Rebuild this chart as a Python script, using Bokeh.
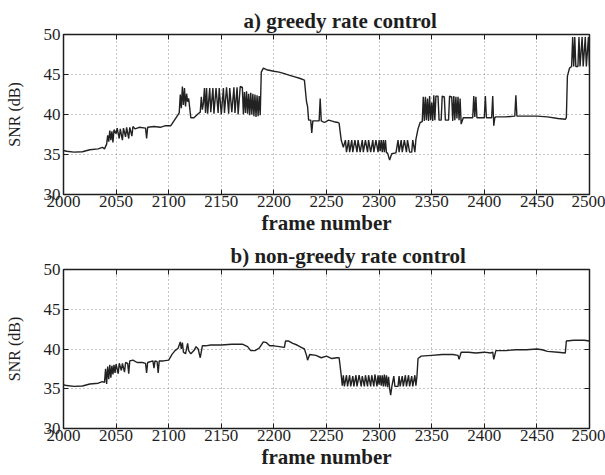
from bokeh.plotting import figure
from bokeh.layouts import column
from bokeh.models import FixedTicker, LinearAxis, Range1d, CustomJSTickFormatter
from bokeh.embed import file_html
from bokeh.resources import INLINE

# ---------------- data ----------------
x_ticks = [2000, 2050, 2100, 2150, 2200, 2250, 2300, 2350, 2400, 2450, 2500]
y_ticks = [30, 35, 40, 45, 50]

greedy_frame = [
    2000, 2003, 2010, 2018, 2025, 2033, 2037, 2039, 2041, 2042, 2043, 2044, 2045, 2046, 2047, 2048,
    2050, 2051, 2053, 2054, 2056, 2057, 2059, 2060, 2062, 2063, 2065, 2066, 2068, 2072, 2078, 2079,
    2080, 2086, 2092, 2097, 2102, 2105, 2108, 2110, 2111, 2112, 2113, 2114, 2115, 2116, 2117, 2118,
    2119, 2120, 2121, 2124, 2128, 2130, 2131, 2132, 2133, 2134, 2135, 2136, 2137, 2139, 2140, 2142,
    2143, 2145, 2147, 2148, 2150, 2152, 2153, 2155, 2157, 2158, 2160, 2162, 2163, 2165, 2166, 2168,
    2170, 2171, 2172, 2173, 2174, 2175, 2176, 2177, 2178, 2179, 2180, 2181, 2182, 2183, 2184, 2185,
    2186, 2187, 2188, 2190, 2193, 2200, 2205, 2210, 2215, 2220, 2225, 2229, 2231, 2232, 2233, 2235,
    2236, 2237, 2243, 2244, 2245, 2248, 2252, 2257, 2261, 2262, 2264, 2266, 2268, 2269, 2271, 2272,
    2274, 2275, 2277, 2279, 2280, 2282, 2284, 2285, 2287, 2289, 2290, 2292, 2294, 2295, 2297, 2299,
    2300, 2301, 2302, 2303, 2304, 2305, 2306, 2307, 2308, 2310, 2312, 2316, 2318, 2319, 2321, 2322,
    2324, 2326, 2327, 2329, 2331, 2332, 2334, 2335, 2337, 2339, 2341, 2342, 2343, 2344, 2345, 2346,
    2347, 2348, 2349, 2350, 2351, 2352, 2353, 2354, 2356, 2357, 2359, 2360, 2362, 2363, 2366, 2367,
    2369, 2370, 2371, 2372, 2373, 2374, 2375, 2376, 2377, 2378, 2380, 2385, 2389, 2390, 2391, 2392,
    2393, 2400, 2401, 2402, 2407, 2408, 2409, 2410, 2411, 2420, 2429, 2430, 2431, 2440, 2450, 2460,
    2470, 2477, 2478, 2479, 2481, 2483, 2484, 2485, 2486, 2487, 2489, 2490, 2491, 2493, 2494, 2496,
    2497, 2499, 2500,
]
greedy_snr = [
    35.5, 35.4, 35.3, 35.35, 35.6, 35.7, 35.9, 35.7, 36.3, 37.4, 36.6, 38.0, 36.8, 37.9, 36.5, 38.1,
    37.6, 38.3, 37.0, 38.2, 36.8, 38.3, 37.2, 38.4, 37.0, 38.4, 37.3, 38.5, 38.2, 38.4, 38.3, 37.0,
    38.4, 38.5, 38.4, 38.6, 38.6, 39.2, 39.8, 40.2, 42.5, 40.8, 43.5, 41.2, 43.3, 41.0, 42.6, 41.6,
    42.0, 40.8, 39.6, 39.6, 40.1, 40.3, 42.2, 40.6, 41.4, 43.3, 40.2, 43.3, 40.1, 43.3, 40.3, 43.3,
    40.1, 43.3, 40.2, 43.3, 40.0, 43.3, 40.2, 43.4, 40.1, 43.3, 40.3, 43.4, 40.2, 43.4, 40.0, 43.5,
    43.4, 40.0, 42.8, 40.2, 42.9, 40.1, 42.6, 39.9, 42.7, 40.0, 42.6, 39.8, 42.5, 39.7, 42.4, 39.8,
    42.3, 39.9, 45.3, 45.8, 45.6, 45.4, 45.3, 45.1, 44.9, 44.7, 44.5, 44.3, 41.6, 41.0, 39.3, 39.3,
    37.7, 39.2, 39.2, 42.0, 39.2, 39.0, 39.3, 39.1, 39.0, 38.9, 36.8, 35.9, 36.8, 35.3, 36.8, 35.3,
    36.8, 35.3, 36.8, 35.3, 36.8, 35.3, 36.8, 35.3, 36.8, 35.3, 36.8, 35.3, 36.8, 35.3, 36.8, 35.3,
    36.8, 35.4, 36.8, 35.3, 36.8, 35.3, 36.8, 35.2, 35.2, 34.3, 35.1, 35.2, 36.8, 35.3, 36.8, 35.3,
    36.8, 35.3, 36.8, 35.3, 35.3, 36.8, 35.3, 36.9, 38.2, 39.0, 39.1, 42.2, 39.2, 42.2, 39.3, 42.0,
    39.2, 42.3, 39.3, 41.5, 39.2, 42.4, 39.3, 42.3, 42.3, 39.3, 39.3, 42.3, 42.2, 39.3, 39.3, 42.3,
    42.2, 39.2, 42.3, 39.3, 42.2, 39.5, 42.2, 39.3, 42.0, 38.8, 39.6, 39.6, 39.6, 42.3, 39.7, 42.2,
    39.6, 39.6, 42.3, 39.6, 39.6, 42.3, 38.6, 39.6, 39.7, 39.7, 39.8, 42.4, 39.8, 39.8, 39.8, 39.7,
    39.5, 39.4, 39.6, 44.8, 45.8, 46.0, 49.7, 46.0, 49.7, 46.0, 46.0, 49.7, 46.0, 49.7, 46.0, 49.7,
    46.0, 49.7, 46.0,
]

nongreedy_frame = [
    2000, 2003, 2010, 2018, 2025, 2033, 2037, 2039, 2040, 2041, 2042, 2043, 2044, 2045, 2046, 2047,
    2048, 2049, 2050, 2052, 2053, 2055, 2056, 2058, 2059, 2061, 2062, 2063, 2066, 2070, 2075, 2078,
    2079, 2080, 2085, 2086, 2087, 2089, 2090, 2091, 2095, 2100, 2103, 2106, 2109, 2111, 2112, 2113,
    2114, 2116, 2118, 2119, 2121, 2124, 2126, 2128, 2130, 2132, 2135, 2140, 2150, 2160, 2170, 2175,
    2178, 2182, 2186, 2190, 2193, 2196, 2200, 2205, 2210, 2211, 2214, 2218, 2222, 2226, 2229, 2231,
    2232, 2234, 2240, 2245, 2250, 2255, 2260, 2262, 2264, 2265, 2266, 2267, 2269, 2270, 2272, 2273,
    2275, 2276, 2278, 2279, 2281, 2283, 2284, 2286, 2287, 2289, 2290, 2292, 2293, 2295, 2296, 2298,
    2299, 2300, 2301, 2302, 2303, 2304, 2305, 2306, 2307, 2308, 2309, 2310, 2311, 2312, 2314, 2315,
    2316, 2318, 2319, 2320, 2322, 2323, 2325, 2326, 2328, 2329, 2331, 2332, 2334, 2335, 2336, 2337,
    2340, 2350, 2360, 2370, 2375, 2376, 2378, 2385, 2392, 2400, 2406, 2408, 2409, 2411, 2420, 2430,
    2440, 2450, 2455, 2460, 2470, 2477, 2478, 2485, 2495, 2500,
]
nongreedy_snr = [
    35.5, 35.4, 35.3, 35.35, 35.6, 35.7, 35.9, 35.8, 37.5, 35.6, 37.8, 36.2, 38.0, 36.4, 37.9, 36.8,
    38.0, 37.0, 38.1, 36.9, 38.2, 37.3, 38.2, 37.1, 38.3, 38.2, 36.9, 38.5, 38.6, 38.3, 38.3, 38.2,
    37.0, 38.3, 38.5, 37.6, 38.5, 38.4, 37.0, 38.5, 38.5, 38.6, 39.3, 39.8, 40.1, 40.9, 40.0, 40.8,
    39.6, 39.4, 40.7, 39.8, 39.4, 39.8, 40.3, 40.0, 38.9, 40.4, 40.4, 40.5, 40.5, 40.6, 40.6, 40.3,
    39.8, 39.8, 40.1, 40.9, 40.8, 40.4, 40.4, 40.3, 40.2, 41.0, 41.0, 40.7, 40.5, 40.2, 40.0, 39.2,
    38.6, 39.3, 39.2, 38.9, 39.1, 38.8, 38.9, 38.9, 36.7, 35.4, 36.7, 35.3, 36.7, 35.3, 36.7, 35.3,
    36.6, 35.3, 36.7, 35.3, 36.7, 35.3, 36.6, 35.3, 36.7, 35.3, 36.7, 35.3, 36.7, 35.3, 36.8, 35.3,
    36.7, 35.5, 36.7, 35.4, 36.7, 35.3, 36.8, 35.3, 36.7, 35.2, 36.5, 35.0, 34.2, 35.2, 36.6, 35.3,
    35.3, 35.3, 36.6, 35.3, 36.6, 35.3, 36.7, 35.3, 36.7, 35.3, 36.6, 35.3, 36.7, 35.4, 36.6, 38.8,
    39.1, 39.2, 39.3, 39.3, 39.2, 38.7, 39.6, 39.6, 39.5, 39.6, 39.5, 39.6, 38.7, 39.8, 39.8, 39.9,
    39.9, 40.0, 39.9, 39.7, 39.6, 39.5, 41.0, 41.1, 41.1, 41.0,
]

titles = ["a) greedy rate control", "b) non-greedy rate control"]
x_label = "frame number"
y_label = "SNR (dB)"

SERIF = "Liberation Serif"
INK = "#1e1e1e"


def make_panel(title, frames, snr, height, top, bottom, title_offset):
    p = figure(width=605, height=height, output_backend="svg", toolbar_location=None,
               x_range=Range1d(2000, 2500), y_range=Range1d(30, 50),
               min_border_left=63, min_border_right=16,
               min_border_top=top, min_border_bottom=bottom,
               background_fill_color="white", border_fill_color="white")
    p.title.text = title
    p.title.align = "left"
    p.title.offset = title_offset
    p.title.text_font = SERIF
    p.title.text_font_style = "bold"
    p.title.text_font_size = "21px"
    p.title.text_color = INK
    p.title.standoff = 3

    p.line(frames, snr, line_color="#222222", line_width=1.4)

    p.outline_line_color = INK
    p.outline_line_width = 1.5

    for ax, lab in ((p.xaxis[0], x_label), (p.yaxis[0], y_label)):
        ax.axis_label = lab
        ax.major_tick_in = 5
        ax.major_tick_out = 0
        ax.minor_tick_line_color = None
        ax.axis_line_color = INK
        ax.major_tick_line_color = INK
        ax.major_label_text_font = SERIF
        ax.major_label_text_font_size = "17px"
        ax.major_label_text_color = INK
        ax.axis_label_text_font = SERIF
        ax.axis_label_text_color = INK

    p.xaxis[0].ticker = FixedTicker(ticks=x_ticks)
    p.yaxis[0].ticker = FixedTicker(ticks=y_ticks)
    p.xaxis[0].axis_label_text_font_style = "bold"
    p.xaxis[0].axis_label_text_font_size = "21px"
    p.xaxis[0].major_label_standoff = 1
    p.xaxis[0].axis_label_standoff = 1
    p.yaxis[0].axis_label_text_font_style = "normal"
    p.yaxis[0].axis_label_text_font_size = "16px"
    p.yaxis[0].major_label_standoff = 3
    p.yaxis[0].axis_label_standoff = 18

    # MATLAB-style ticks on the top and right edges (no labels)
    blank = CustomJSTickFormatter(code="return ''")
    top_ax = LinearAxis(ticker=FixedTicker(ticks=x_ticks), major_tick_in=5, major_tick_out=0,
                        minor_tick_line_color=None, formatter=blank,
                        major_label_standoff=0, axis_line_color=INK,
                        major_tick_line_color=INK)
    right_ax = LinearAxis(ticker=FixedTicker(ticks=y_ticks), major_tick_in=5, major_tick_out=0,
                          minor_tick_line_color=None, formatter=blank,
                          major_label_standoff=0, axis_line_color=INK,
                          major_tick_line_color=INK)
    p.add_layout(top_ax, "above")
    p.add_layout(right_ax, "right")

    p.xgrid.ticker = FixedTicker(ticks=x_ticks)
    p.ygrid.ticker = FixedTicker(ticks=y_ticks)
    for g in (p.xgrid[0], p.ygrid[0]):
        g.grid_line_color = "#8a8a8a"
        g.grid_line_dash = "1 3"
        g.grid_line_width = 1
    return p


p1 = make_panel(titles[0], greedy_frame, greedy_snr, 237, 34, 42, 180)
p2 = make_panel(titles[1], nongreedy_frame, nongreedy_snr, 238, 32, 47, 167)

layout = column(p1, p2, spacing=0)
open("out.html", "w").write(file_html(layout, INLINE))
